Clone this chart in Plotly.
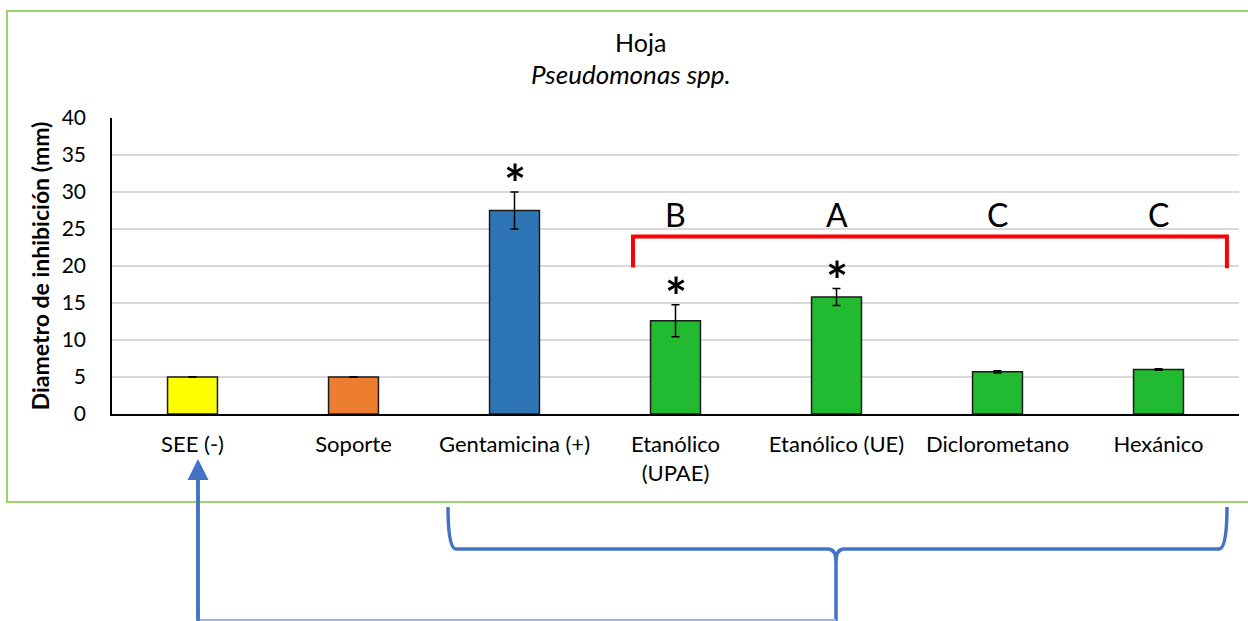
import plotly.graph_objects as go

# --- data -------------------------------------------------------------
categories = ["SEE (-)", "Soporte", "Gentamicina (+)", "Etanólico<br>(UPAE)",
              "Etanólico (UE)", "Diclorometano", "Hexánico"]
means = [5.0, 5.0, 27.5, 12.6, 15.8, 5.7, 6.0]
errors = [0.05, 0.05, 2.5, 2.15, 1.15, 0.15, 0.1]
bar_colors = ["#FFFF00", "#ED7D31", "#2E75B6", "#21BA30", "#21BA30", "#21BA30", "#21BA30"]
significance = ["", "", "*", "*", "*", "", ""]
group_letters = ["", "", "", "B", "A", "C", "C"]

# --- layout geometry (pixels) ----------------------------------------
W, H = 1248, 621
L, R, T, B = 112, 9, 118, 207
PW, PH = W - L - R, H - T - B
FONT = "Lato, Open Sans, sans-serif"


def px(x):
    return (x - L) / PW


def py(y):
    return (H - B - y) / PH


fig = go.Figure()
fig.add_trace(go.Bar(
    x=list(range(len(categories))),
    y=means,
    width=0.31,
    marker=dict(color=bar_colors, line=dict(color="#1a1a1a", width=1.5)),
    error_y=dict(type="data", array=errors, visible=True,
                 color="#000000", thickness=1.5, width=4),
    showlegend=False,
))

annotations = []
# significance asterisks above the error bars
for i, (m, e, s) in enumerate(zip(means, errors, significance)):
    if s:
        annotations.append(dict(x=i, y=m + e, xref="x", yref="y", text=f"<b>{s}</b>",
                                showarrow=False, yanchor="middle", yshift=9,
                                font=dict(family=FONT, size=52, color="#000")))
# group letters above the red bracket
for i, g in enumerate(group_letters):
    if g:
        annotations.append(dict(x=i, y=26.9, xref="x", yref="y", text=g,
                                showarrow=False, yanchor="middle",
                                font=dict(family=FONT, size=32, color="#000")))

# title
annotations.append(dict(x=px(640), y=py(42), xref="paper", yref="paper", text="Hoja",
                        showarrow=False, yanchor="middle",
                        font=dict(family=FONT, size=25, color="#000")))
annotations.append(dict(x=px(631), y=py(74), xref="paper", yref="paper",
                        text="<i>Pseudomonas spp.</i>", showarrow=False, yanchor="middle",
                        font=dict(family=FONT, size=26, color="#000")))

# arrow pointing up at the negative control label
annotations.append(dict(x=px(198), y=py(459), xref="paper", yref="paper", text="",
                        showarrow=True, arrowhead=2, arrowsize=1.2, arrowwidth=3.5,
                        arrowcolor="#4472C4", ax=0, ay=161, standoff=0))

shapes = []
# outer chart border
shapes.append(dict(type="rect", xref="paper", yref="paper",
                   x0=px(7), x1=px(1252), y0=py(11), y1=py(502),
                   line=dict(color="#9BD36B", width=2), layer="below"))
# red bracket grouping the extracts
bx0, bx1 = 2.736, 6.425
shapes.append(dict(type="path", xref="x", yref="y",
                   path=f"M {bx0},19.8 L {bx0},24 L {bx1},24 L {bx1},19.7",
                   line=dict(color="#FF0000", width=4)))


# blue curly brace under the extracts
def pp(x, y):
    return f"{px(x):.5f},{py(y):.5f}"


brace = (f"M {pp(448,507)} Q {pp(448,549)} {pp(456,549)} L {pp(828,549)} "
         f"Q {pp(836,549)} {pp(836,562)} "
         f"M {pp(1227,507)} Q {pp(1227,549)} {pp(1219,549)} L {pp(844,549)} "
         f"Q {pp(836,549)} {pp(836,562)} L {pp(836,621)}")
shapes.append(dict(type="path", xref="paper", yref="paper", path=brace,
                   line=dict(color="#4472C4", width=3.5)))
# connector from the brace to the arrow
shapes.append(dict(type="line", xref="paper", yref="paper",
                   x0=px(198), x1=px(836), y0=py(620), y1=py(620),
                   line=dict(color="#9FB6E3", width=2)))
shapes.append(dict(type="line", xref="paper", yref="paper",
                   x0=px(198), x1=px(198), y0=py(621), y1=py(470),
                   line=dict(color="#4472C4", width=3.5)))

fig.update_layout(
    width=W, height=H,
    margin=dict(l=L, r=R, t=T, b=B),
    paper_bgcolor="white", plot_bgcolor="white",
    font=dict(family=FONT, size=18, color="#000"),
    bargap=0.69,
    annotations=annotations,
    shapes=shapes,
)
fig.update_xaxes(
    tickmode="array", tickvals=list(range(len(categories))), ticktext=categories,
    range=[-0.5, 6.5], showline=True, linecolor="#000", linewidth=1.5,
    showgrid=False, ticks="", tickfont=dict(family=FONT, size=22),
    ticklabelstandoff=10, zeroline=False,
)
fig.update_yaxes(
    range=[0, 40], dtick=5, showline=True, linecolor="#000", linewidth=1.5,
    showgrid=True, gridcolor="#D9D9D9", gridwidth=1.5, zeroline=False,
    ticks="", tickfont=dict(family=FONT, size=21), ticklabelstandoff=20,
    title=dict(text="<b>Diametro de inhibición (mm)</b>", standoff=6,
               font=dict(family=FONT, size=23)),
)

fig.write_html("out.html")
